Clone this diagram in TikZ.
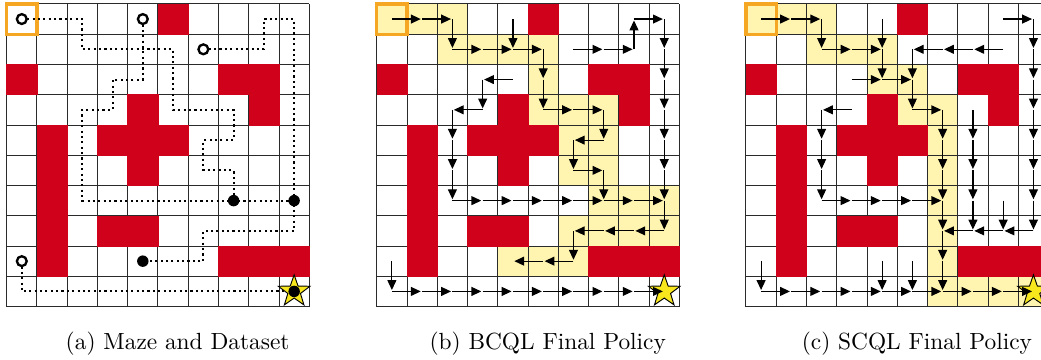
\documentclass[tikz,border=0pt]{standalone}
\usepackage[dvipsnames,svgnames,x11names]{xcolor}
\usepackage{tikz}
\usetikzlibrary{
  shapes.geometric, arrows.meta, positioning, calc
}
\definecolor{wallred}{HTML}{D0021B}
\definecolor{visityellow}{HTML}{FFF5B0}
\definecolor{startorange}{HTML}{F5A623}
\definecolor{goalyellow}{HTML}{F8E71C}
\definecolor{gridgray}{HTML}{2A2A2A}
\tikzset{
  % Maze cells
  mazegrid/.style={draw=gridgray, line width=0.4pt},
  wallcell/.style={fill=wallred, draw=wallred, line width=0.2pt},
  visitcell/.style={fill=visityellow},
  startbox/.style={draw=startorange, line width=1.4pt},
  % Goal
  goalstar/.style={
    star, star points=5, star point ratio=2.5, minimum size=0.5cm,
    inner sep=0pt, draw=black, fill=goalyellow, line width=0.4pt,
  },
  % Dataset trajectories
  datapath/.style={line width=0.9pt, dash pattern=on 0.9pt off 1.4pt},
  startdot/.style={
    circle, draw=black, fill=white, line width=1pt,
    minimum size=4.2pt, inner sep=0pt,
  },
  enddot/.style={circle, fill=black, minimum size=4.9pt, inner sep=0pt},
  % Policy arrows
  policyarrow/.style={
    -{Triangle[length=4.2pt, width=3.8pt]}, line width=0.5pt, shorten >=0.6pt,
  },
  % Captions
  subcaption/.style={font=\normalsize},
}
% grid, walls and start cell shared by the three panels
\newcommand{\mazebase}{%
  \foreach \i in {0,...,10} {
    \draw[mazegrid] (\i,0) -- (\i,10);
    \draw[mazegrid] (0,\i) -- (10,\i);
  }
  \foreach \col/\row in {5/0, 0/2, 7/2, 8/2, 4/3, 8/3, 1/4, 3/4, 4/4, 5/4,
                         1/5, 4/5, 1/6, 1/7, 3/7, 4/7, 1/8, 7/8, 8/8, 9/8}
    \filldraw[wallcell] (\col,9-\row) rectangle ++(1,1);
  \draw[startbox] (0,9) rectangle (1,10);
}

\begin{document}
\begin{tikzpicture}[x=0.455cm, y=0.455cm]
  \useasboundingbox (-0.22,-1.76) rectangle (34.18,10.13);
  \clip (-0.22,-1.76) rectangle (34.18,10.13);
  \fill[white] (-0.22,-1.76) rectangle (34.18,10.13);

  % (a) Maze and dataset
  \begin{scope}
    \mazebase
    \draw[datapath] (0.5,9.5) -| (2.5,8.5) -| (5.5,6.5) -| (7.5,5.5)
      -| (6.5,4.5) -| (7.5,3.5);
    \draw[datapath] (4.5,9.5) |- (3.5,7.5) |- (2.5,6.5) |- (9.5,3.5);
    \draw[datapath] (6.5,8.5) -| (8.5,9.5) -| (9.5,2.5) -| (6.5,1.5)
      -- (4.5,1.5);
    \draw[datapath] (0.5,1.5) |- (9.5,0.5);
    \node[goalstar] (goalA) at (9.5,0.5) {};
    % start and end points
    \node[startdot] (startA1) at (0.5,9.5) {};
    \node[startdot] (startA2) at (4.5,9.5) {};
    \node[startdot] (startA3) at (6.5,8.5) {};
    \node[startdot] (startA4) at (0.5,1.5) {};
    \node[enddot] (endA1) at (7.5,3.5) {};
    \node[enddot] (endA2) at (9.5,3.5) {};
    \node[enddot] (endA3) at (4.5,1.5) {};
    \node[enddot] (endA4) at (9.5,0.5) {};
    \node[subcaption] (capA) at (5.65,-1.22) {(a) Maze and Dataset};
  \end{scope}

  % (b) BCQL policy
  \begin{scope}[shift={(12.23,0)}]
    \foreach \row/\col in {0/0, 0/1, 0/2, 1/2, 1/3, 1/4, 1/5, 2/5, 3/5, 3/6,
                           3/7, 4/6, 4/7, 5/6, 5/7, 6/7, 6/8, 6/9, 7/6, 7/7,
                           7/8, 7/9, 8/4, 8/5, 8/6}
      \fill[visitcell] (\col,9-\row) rectangle ++(1,1);
    \mazebase
    \node[goalstar] (goalB) at (9.5,0.5) {};
    \foreach \row/\col/\dx/\dy in {
        0/0/1/0, 0/1/1/0, 0/2/0/-1, 0/4/0/-1, 0/8/1/0, 0/9/0/-1,
        1/2/1/0, 1/3/1/0, 1/4/1/0, 1/5/0/-1, 1/6/1/0, 1/7/1/0, 1/8/0/1, 1/9/0/-1,
        2/3/0/-1, 2/4/-1/0, 2/5/0/-1, 2/9/0/-1,
        3/2/0/-1, 3/3/-1/0, 3/5/1/0, 3/6/1/0, 3/7/0/-1, 3/9/0/-1,
        4/2/0/-1, 4/6/0/-1, 4/7/-1/0, 4/9/0/-1,
        5/2/0/-1, 5/6/1/0, 5/7/0/-1, 5/9/0/-1,
        6/2/1/0, 6/3/1/0, 6/4/1/0, 6/5/1/0, 6/6/1/0, 6/7/1/0, 6/8/1/0, 6/9/0/-1,
        7/6/0/-1, 7/7/-1/0, 7/8/-1/0, 7/9/-1/0,
        8/0/0/-1, 8/5/-1/0, 8/6/-1/0}
      \draw[policyarrow] (\col+0.5,9.5-\row) -- ++(\dx,\dy);
    \foreach \col in {0,...,8}
      \draw[policyarrow] (\col+0.5,0.5) -- ++(1,0);
    \node[subcaption] (capB) at (5.65,-1.22) {(b) BCQL Final Policy};
  \end{scope}

  % (c) SCQL policy
  \begin{scope}[shift={(24.43,0)}]
    \foreach \row/\col in {0/0, 0/1, 0/2, 1/2, 1/3, 1/4, 2/4, 2/5, 3/5, 3/6,
                           4/6, 5/6, 6/6, 7/6, 8/6, 9/6, 9/7, 9/8, 9/9}
      \fill[visitcell] (\col,9-\row) rectangle ++(1,1);
    \mazebase
    \node[goalstar] (goalC) at (9.5,0.5) {};
    \foreach \row/\col/\dx/\dy in {
        0/0/1/0, 0/1/1/0, 0/2/0/-1, 0/4/0/-1, 0/8/1/0, 0/9/0/-1,
        1/2/1/0, 1/3/1/0, 1/4/0/-1, 1/5/0/-1, 1/6/-1/0, 1/7/-1/0, 1/8/-1/0, 1/9/0/-1,
        2/3/1/0, 2/4/1/0, 2/5/0/-1, 2/9/0/-1,
        3/2/0/-1, 3/3/-1/0, 3/5/1/0, 3/6/0/-1, 3/7/0/-1, 3/9/0/-1,
        4/2/0/-1, 4/6/0/-1, 4/7/0/-1, 4/9/0/-1,
        5/2/0/-1, 5/6/0/-1, 5/7/0/-1, 5/9/0/-1,
        6/2/1/0, 6/3/1/0, 6/4/1/0, 6/5/1/0, 6/6/0/-1, 6/7/0/-1, 6/8/0/-1, 6/9/0/-1,
        7/6/0/-1, 7/7/-1/0, 7/8/-1/0, 7/9/-1/0,
        8/0/0/-1, 8/4/0/-1, 8/5/0/-1, 8/6/0/-1}
      \draw[policyarrow] (\col+0.5,9.5-\row) -- ++(\dx,\dy);
    \foreach \col in {0,...,8}
      \draw[policyarrow] (\col+0.5,0.5) -- ++(1,0);
    \node[subcaption] (capC) at (5.65,-1.22) {(c) SCQL Final Policy};
  \end{scope}
\end{tikzpicture}
\end{document}
